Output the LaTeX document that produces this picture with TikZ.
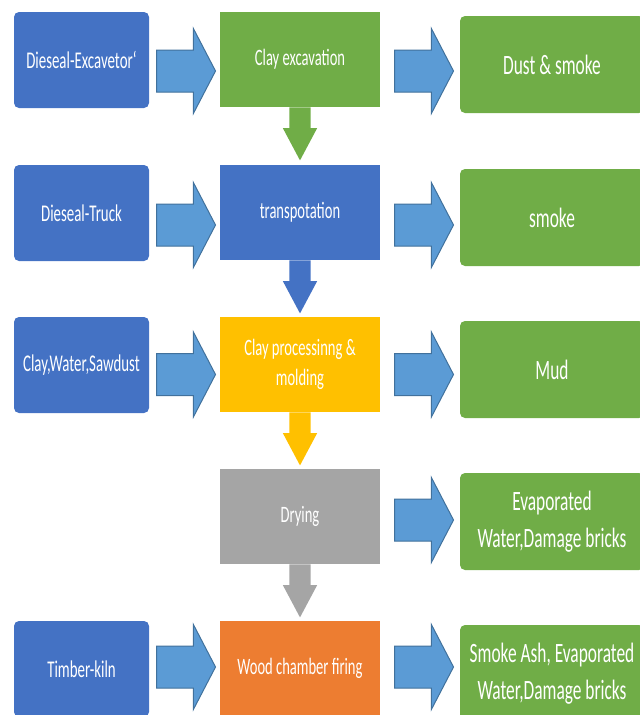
\documentclass[tikz,border=0pt]{standalone}
\usepackage{fontspec}
\setmainfont[FakeStretch=0.62]{Carlito}
\usetikzlibrary{shapes.arrows,positioning}
\definecolor{boxblue}{HTML}{4472C4}
\definecolor{boxgreen}{HTML}{70AD47}
\definecolor{boxyellow}{HTML}{FFC000}
\definecolor{boxgray}{HTML}{A5A5A5}
\definecolor{boxorange}{HTML}{ED7D31}
\definecolor{arrowblue}{HTML}{5B9BD5}
\definecolor{arrowedge}{HTML}{41719C}

\begin{document}
\begin{tikzpicture}[x=1pt, y=-1pt,
    input/.style={rectangle, rounded corners=5pt, fill=boxblue, text=white,
    minimum width=135pt, minimum height=96pt, align=center,
    font=\fontsize{24}{29}\selectfont},
    process/.style={rectangle, text=white, minimum width=160pt, minimum height=95pt,
    align=center, font=\fontsize{23.5}{30}\selectfont},
    output/.style={rectangle, rounded corners=5pt, fill=boxgreen, text=white,
    minimum width=184pt, minimum height=97pt, align=center,
    font=\fontsize{28}{37}\selectfont},
    harrow/.style={single arrow, fill=arrowblue, draw=arrowedge, line width=1pt,
    text height=41pt, text depth=0pt, minimum height=59pt, minimum width=85pt,
    single arrow head extend=21.5pt, single arrow tip angle=125, inner sep=0pt, anchor=tail},
    varrow/.style={single arrow, rotate=-90, text height=21pt, text depth=0pt,
    minimum height=53pt, minimum width=34pt, single arrow head extend=6.5pt,
    single arrow tip angle=56, inner sep=0pt, anchor=tail},]
    \clip (0,0) rectangle (640,715);

    % inputs
    \node (excavator) [input] at (81.5,60) {Dieseal-Excavetor\symbol{96}};
    \node (truck) [input] at (81.5,213) {Dieseal-Truck};
    \node (rawmix) [input] at (81.5,365) {Clay,Water,Sawdust};
    \node (timber) [input] at (81.5,669) {Timber-kiln};

    % process steps
    \node (excavation) [process, fill=boxgreen] at (300,59.5) {Clay excavation};
    \node (transport) [process, fill=boxblue] at (300,212.5) {transpotation};
    \node (molding) [process, fill=boxyellow] at (300,364.5) {Clay processinng \&\\ molding};
    \node (drying) [process, fill=boxgray] at (300,516.5) {Drying};
    \node (firing) [process, fill=boxorange] at (300,668.5) {Wood chamber firing};

    % outputs
    \node (dust) [output] at (552,64.5) {Dust \& smoke};
    \node (smoke) [output] at (552,217.5) {smoke};
    \node (mud) [output] at (552,369.5) {Mud};
    \node (water) [output] at (552,521.5) {Evaporated\\ Water,Damage bricks};
    \node (ash) [output] at (552,673.5) {Smoke Ash, Evaporated\\ Water,Damage bricks};

    % arrows in
    \node (in1) [harrow] at (156,71) {};
    \node (in2) [harrow] at (156,225) {};
    \node (in3) [harrow] at (156,374.5) {};
    \node (in5) [harrow] at (156,667) {};

    % arrows out
    \node (out1) [harrow] at (394,71) {};
    \node (out2) [harrow] at (394,225) {};
    \node (out3) [harrow] at (394,374.5) {};
    \node (out4) [harrow] at (394,520) {};
    \node (out5) [harrow] at (394,667) {};

    % arrows down
    \node (down1) [varrow, fill=boxgreen] at (excavation.south) {};
    \node (down2) [varrow, fill=boxblue] at (transport.south) {};
    \node (down3) [varrow, fill=boxyellow] at (molding.south) {};
    \node (down4) [varrow, fill=boxgray] at (drying.south) {};
\end{tikzpicture}
\end{document}
